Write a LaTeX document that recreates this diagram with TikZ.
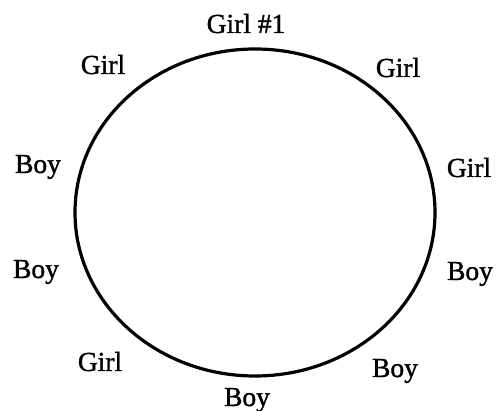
\documentclass[tikz,border=0pt]{standalone}
\usepackage{fontspec}
\setmainfont{Liberation Serif}
\newfontfamily\lblfont{Liberation Serif}[RawFeature={embolden=1.3}]
\begin{document}
\begin{tikzpicture}[x=1pt,y=1pt,
  lbl/.style={anchor=base,inner sep=0pt,font=\lblfont\fontsize{27.5}{30}\selectfont}]
\useasboundingbox (0,0) rectangle (497,411);
\draw[line width=3.2pt] (255,198.5) ellipse [x radius=180, y radius=163.5];
\node[lbl] (g1) at (246,378) {Girl \#1};
\node[lbl] (gtl) at (103,337) {Girl};
\node[lbl] (gtr) at (398,334) {Girl};
\node[lbl] (bl1) at (38,238) {Boy};
\node[lbl] (gr) at (469,234) {Girl};
\node[lbl] (bl2) at (36,133) {Boy};
\node[lbl] (br) at (470,131) {Boy};
\node[lbl] (gbl) at (100,40) {Girl};
\node[lbl] (bbr) at (395,34) {Boy};
\node[lbl] (bb) at (247,5) {Boy};
\end{tikzpicture}
\end{document}
